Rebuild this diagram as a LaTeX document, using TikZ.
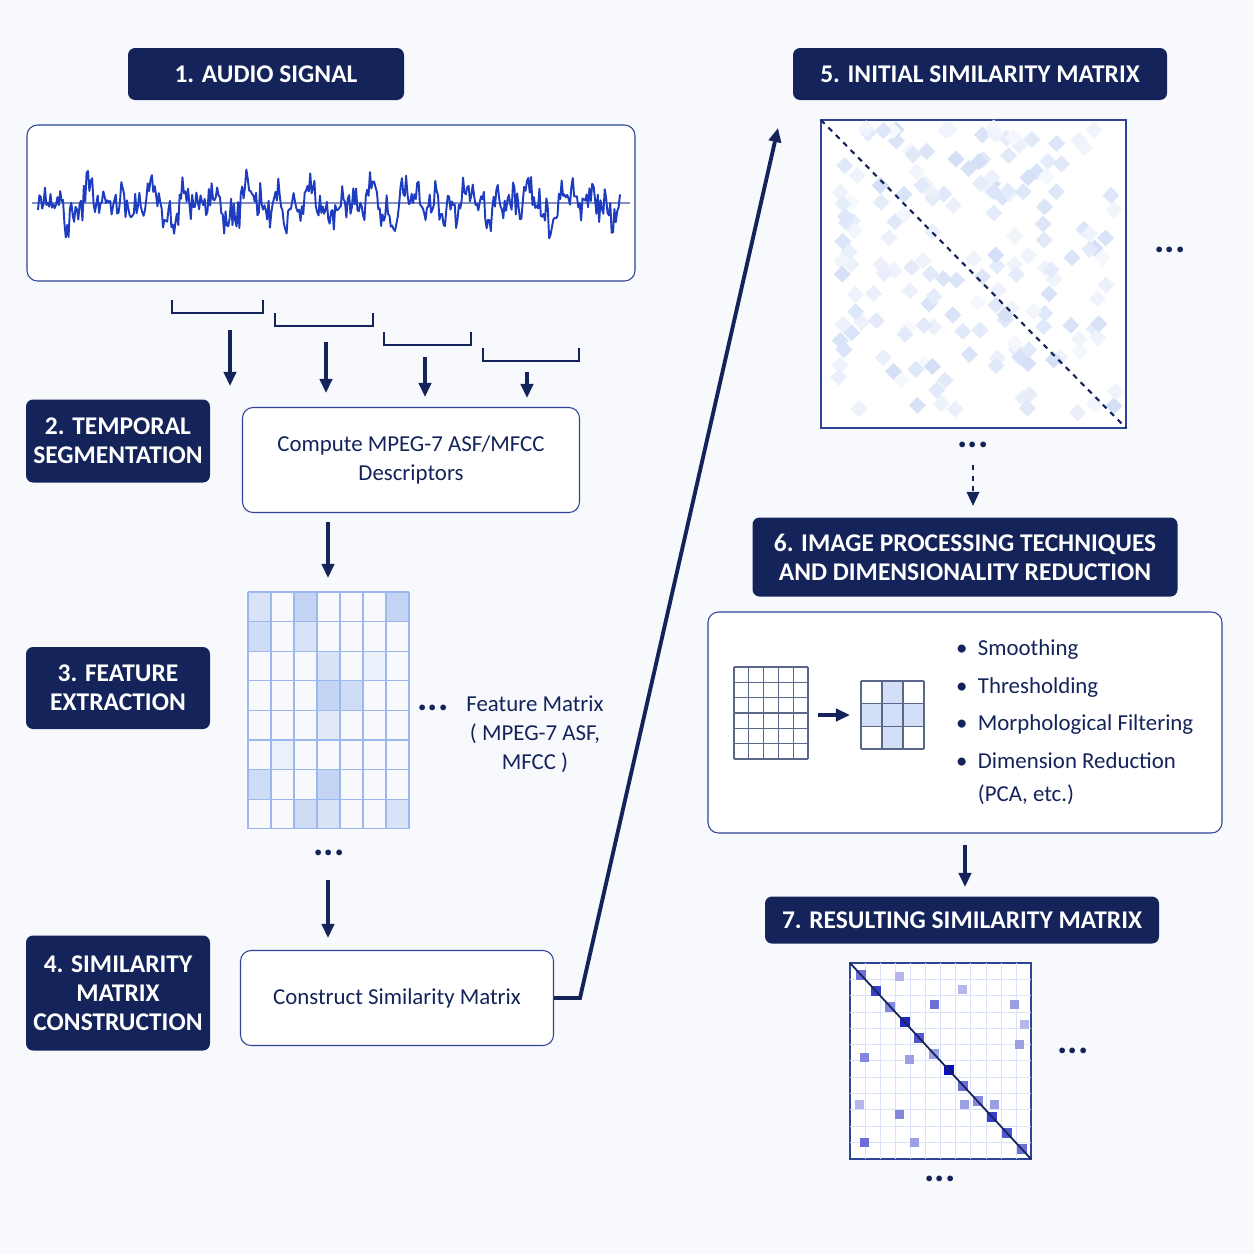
\documentclass[tikz,border=0pt]{standalone}
\usepackage{fontspec}
\setmainfont{Carlito}
\usetikzlibrary{arrows.meta}
\definecolor{navy}{HTML}{14245A}
\definecolor{bord}{HTML}{2E4496}
\definecolor{bg}{HTML}{F7F9FD}
\definecolor{wave}{HTML}{1E3CC0}
\definecolor{cellb}{HTML}{9DB8EC}
\begin{document}
\begin{tikzpicture}[x=0.02cm,y=-0.02cm,
 lab/.style={fill=navy,rounded corners=4pt,text=white,font=\fontsize{14.5}{16.5}\selectfont\bfseries,align=center,inner sep=0pt},
 box/.style={draw=bord,line width=0.6pt,rounded corners=6pt,fill=white},
 txt/.style={font=\fontsize{13}{16.5}\selectfont,text=navy,align=center},
 arr/.style={-{Triangle[length=8pt,width=7pt]},line width=1.8pt,draw=navy},
 dots/.style={font=\fontsize{22}{22}\selectfont\bfseries,text=navy}]
\fill[bg] (0,0) rectangle (1254,1254);
% labels
\node[lab,minimum width=276*0.02cm,minimum height=52*0.02cm] (l1) at (266,74) {1. AUDIO SIGNAL};
\node[lab,minimum width=184*0.02cm,minimum height=83*0.02cm] (l2) at (118,441) {2. TEMPORAL\\SEGMENTATION};
\node[lab,minimum width=184*0.02cm,minimum height=82*0.02cm] (l3) at (118,688) {3. FEATURE\\EXTRACTION};
\node[lab,minimum width=184*0.02cm,minimum height=115*0.02cm] (l4) at (118,993) {4. SIMILARITY\\MATRIX\\CONSTRUCTION};
\node[lab,minimum width=374*0.02cm,minimum height=52*0.02cm] (l5) at (980,74) {5. INITIAL SIMILARITY MATRIX};
\node[lab,minimum width=425*0.02cm,minimum height=79*0.02cm] (l6) at (965,557) {6. IMAGE PROCESSING TECHNIQUES\\AND DIMENSIONALITY REDUCTION};
\node[lab,minimum width=394*0.02cm,minimum height=47*0.02cm] (l7) at (962,920) {7. RESULTING SIMILARITY MATRIX};
% waveform
\draw[box] (27,125) rectangle (635,281);
\draw[bord!60,line width=0.6pt] (32,203) -- (630,203);
\pgfmathsetseed{7}
\draw[wave,line width=1.1pt,line join=round] plot[domain=38:620,samples=420] (\x,{203+17*sin(\x*9)*cos(\x*2.3)+9*sin(\x*23)+15*rand});
% brackets and arrows
\draw[navy,line width=1.6pt] (172,300)--(172,313)--(263,313)--(263,300);
\draw[navy,line width=1.6pt] (275,313)--(275,326)--(373,326)--(373,313);
\draw[navy,line width=1.6pt] (384,332)--(384,345)--(471,345)--(471,332);
\draw[navy,line width=1.6pt] (483,348)--(483,361)--(579,361)--(579,348);
\coordinate (a1) at (230,330); \coordinate (b1) at (230,386);
\coordinate (a2) at (326,342); \coordinate (b2) at (326,393);
\coordinate (a3) at (425,357); \coordinate (b3) at (425,397);
\coordinate (a4) at (527,372); \coordinate (b4) at (527,398);
\foreach \i in {1,...,4} \draw[arr] (a\i)--(b\i);
\node[box,minimum width=337*0.02cm,minimum height=105*0.02cm,txt] (comp) at (411,460) {Compute MPEG-7 ASF/MFCC\\Descriptors};
\coordinate (c1) at (328,522);
\draw[arr] (c1)--(328,578);
% feature grid
\foreach \c/\r/\o in {0/0/40,0/1/50,2/0/60,2/1/40,6/0/60,3/2/40,3/3/60,4/3/50,3/4/30,0/6/50,3/6/60,2/7/50,3/7/40,6/7/40,1/5/20,5/2/20}
  \fill[cellb!\o!white] (248+\c*23,592+\r*29.6) rectangle ++(23,29.6);
\foreach \i in {0,...,7} \draw[cellb,line width=0.6pt] (248+\i*23,592)--(248+\i*23,829);
\foreach \i in {0,...,8} \draw[cellb,line width=0.6pt] (248,592+\i*29.6)--(409,592+\i*29.6);
\node[dots] (d1) at (433,708) {...};
\node[txt] (fm) at (535,734) {Feature Matrix\\( MPEG-7 ASF,\\MFCC )};
\node[dots] (d2) at (329,853) {...};
\draw[arr] (328,880)--(328,938);
\node[box,minimum width=313*0.02cm,minimum height=95*0.02cm,txt] (cons) at (397,998) {Construct Similarity Matrix};
\coordinate (k) at (580,998);
\coordinate (top) at (778,128);
\draw[arr,line width=2.2pt] (cons.east)--(k)--(top);
% matrix 5
\draw[bord,line width=0.7pt,fill=white] (821,120) rectangle (1126,428);
\pgfmathsetseed{11}
\foreach \i in {1,...,170}{
  \pgfmathsetmacro{\px}{830+rnd*280}
  \pgfmathsetmacro{\py}{128+rnd*285}
  \pgfmathsetmacro{\op}{10+rnd*35}
  \fill[cellb!\op!white,rotate around={45:(\px,\py)}] (\px,\py) rectangle ++(12,12);
}
\draw[navy,dashed,line width=1.2pt] (821,120)--(1126,428);
\node[dots] (d3) at (1170,250) {...};
\node[dots] (d4) at (973,445) {...};
\draw[arr,dashed,line width=1.4pt] (973,465)--(973,506);
% panel 6
\draw[box] (708,612) rectangle (1222,833);
\foreach \i in {0,...,5} \draw[navy!70,line width=0.6pt] (734+\i*14.8,667)--(734+\i*14.8,759);
\foreach \i in {0,...,6} \draw[navy!70,line width=0.6pt] (734,667+\i*15.33)--(808,667+\i*15.33);
\fill[cellb!45!white] (861,704) rectangle (924,726);
\fill[cellb!45!white] (882,681) rectangle (903,749);
\foreach \i in {0,...,3} \draw[navy!70,line width=0.6pt] (861+\i*21,681)--(861+\i*21,749);
\foreach \i in {0,...,3} \draw[navy!70,line width=0.6pt] (861,681+\i*22.67)--(924,681+\i*22.67);
\draw[arr] (818,715)--(850,715);
\node[txt,anchor=west,align=left,font=\fontsize{13}{21.5}\selectfont] (bl) at (950,722) {%
\textbullet\ \ Smoothing\\ \textbullet\ \ Thresholding\\ \textbullet\ \ Morphological Filtering\\ \textbullet\ \ Dimension Reduction\\[-3pt] \phantom{\textbullet\ \ }(PCA, etc.)};
\draw[arr] (965,845)--(965,887);
% matrix 7
\draw[bord,line width=0.7pt,fill=white] (850,963) rectangle (1031,1159);
\foreach \i in {1,...,11}{\draw[cellb!40,line width=0.4pt] (850+\i*15.1,963)--(850+\i*15.1,1159); \draw[cellb!40,line width=0.4pt] (850,963+\i*16.3)--(1031,963+\i*16.3);}
\foreach \i/\o in {0/60,1/80,2/50,3/90,4/70,5/40,6/100,7/60,8/50,9/80,10/70,11/60}
  \fill[blue!60!navy!\o!white] (856+\i*14.6,970+\i*15.8) rectangle ++(10,10);
\foreach \x/\y/\o in {895/972/30,930/1000/60,958/985/30,1010/1000/40,860/1053/50,905/1055/40,1015/1040/40,855/1100/30,895/1110/50,990/1100/40,860/1138/60,910/1138/40,960/1100/40,1020/1020/30}
  \fill[blue!60!navy!\o!white] (\x,\y) rectangle ++(9,9);
\draw[navy,line width=1pt] (850,963)--(1031,1159);
\node[dots] (d5) at (1073,1051) {...};
\node[dots] (d6) at (940,1179) {...};
\end{tikzpicture}
\end{document}
